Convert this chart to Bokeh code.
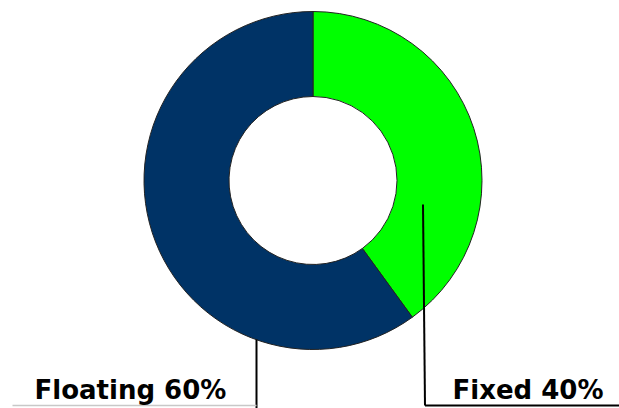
import numpy as np
from bokeh.plotting import figure
from bokeh.models import Range1d, ColumnDataSource
from bokeh.core.properties import value
from bokeh.embed import file_html
from bokeh.resources import INLINE

# Interest-rate mix
labels = ["Floating", "Fixed"]
shares = [60, 40]
colors = ["#003366", "#00FF00"]

W, H = 619, 408

p = figure(width=W, height=H, output_backend="svg", toolbar_location=None,
           x_range=Range1d(0, W), y_range=Range1d(0, H), min_border=0)
p.axis.visible = False
p.grid.visible = False
p.outline_line_color = None
p.background_fill_color = "white"
p.border_fill_color = "white"

# donut geometry (pixel-sized data units, y measured from the bottom)
cx, cy = 312.5, H - 180
r_in, r_out = 84, 169

# slices run clockwise from 12 o'clock: Fixed first, then Floating
order = [1, 0]
frac = np.array([shares[i] for i in order], dtype=float) / sum(shares)
ends = np.pi / 2 - np.concatenate([[0], np.cumsum(frac)[:-1]]) * 2 * np.pi
starts = ends - frac * 2 * np.pi
src = ColumnDataSource(dict(
    start=starts, end=ends,
    color=[colors[i] for i in order],
))
p.annular_wedge(x=cx, y=cy, inner_radius=r_in, outer_radius=r_out,
                start_angle="start", end_angle="end", source=src,
                fill_color="color", line_color="#222222", line_width=1)

# leader lines and underlines
p.line(x=[256, 256], y=[H - 339, H - 408], line_color="black", line_width=2)
p.line(x=[12, 256], y=[H - 405, H - 405], line_color="#c8c8c8", line_width=1.5)
p.line(x=[422.5, 424.5], y=[H - 204, H - 405], line_color="black", line_width=2)
p.line(x=[424.5, 619], y=[H - 405, H - 405], line_color="black", line_width=2)

# slice labels
texts = [f"{labels[i]} {shares[i]}%" for i in range(len(labels))]
p.text(x=[34, 452], y=[H - 389, H - 389], text=texts,
       text_font=value("DejaVu Sans"), text_font_style="bold",
       text_font_size="26px", text_color="black",
       text_baseline="alphabetic", text_align="left")

open("out.html", "w").write(file_html(p, INLINE))
